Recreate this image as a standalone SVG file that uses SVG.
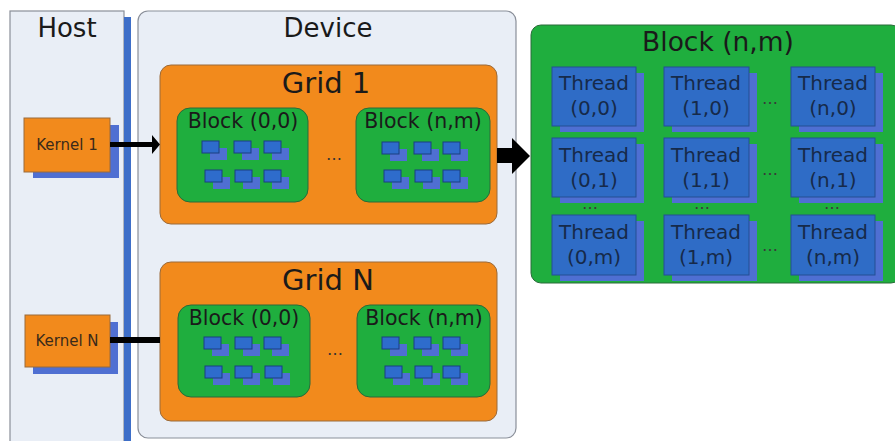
<svg xmlns="http://www.w3.org/2000/svg" width="895" height="441" viewBox="0 0 895 441">
<style>
.panel{fill:#e9eef6;stroke:#8a8f99;stroke-width:1.2}
.orange{fill:#f28a1c;stroke:#9a6a3a;stroke-width:1}
.green{fill:#1fae3e;stroke:#2a6a3a;stroke-width:1}
.shadow{fill:#4f6fd2}
.thread{fill:#2f6cc6;stroke:#244f93;stroke-width:1}
.t{font-family:"DejaVu Sans",Verdana,sans-serif;fill:#1a1a1a;text-anchor:middle}
.hd{font-size:26px}
.k{font-size:15px;fill:#3a2a1a}
.blk{font-size:20.5px}
.grid{font-size:29px}
.th{font-size:20px;fill:#162a4a}
.dots{font-size:16px;fill:#333}
.wdots{font-size:16px;fill:#3a3a3a}
</style>
<defs>
<g id="mini">
<rect x="8" y="7" width="17" height="12" class="shadow"/>
<rect x="0" y="0" width="17" height="12" fill="#2e6ccc" stroke="#1a3f80" stroke-width="1"/>
</g>
</defs>
<rect width="895" height="441" fill="#fff"/>

<g id="host">
<rect x="10" y="11" width="114" height="440" class="panel"/>
<text x="67" y="37" class="t hd">Host</text>
<rect x="124" y="17" width="7" height="430" fill="#3d6ec8"/>
</g>

<g id="device">
<rect x="138" y="11" width="378" height="427" rx="10" class="panel"/>
<text x="328" y="37" class="t hd">Device</text>
</g>

<g id="kernel1">
<rect x="33" y="125" width="86" height="53" class="shadow"/>
<rect x="24" y="118" width="86" height="54" class="orange"/>
<text x="67" y="150" class="t k">Kernel 1</text>
</g>

<g id="kernelN">
<rect x="33" y="322" width="85" height="52" class="shadow"/>
<rect x="25" y="315" width="85" height="52" class="orange"/>
<text x="67" y="346" class="t k">Kernel N</text>
</g>

<g id="grid1">
<rect x="160" y="65" width="337" height="159" rx="11" class="orange"/>
<text x="326" y="93" class="t grid">Grid 1</text>
<g id="grid1-block00">
<rect x="177" y="108" width="131" height="94" rx="13" class="green"/>
<text x="243" y="128" class="t blk">Block (0,0)</text>
<use href="#mini" x="202" y="141"/><use href="#mini" x="234" y="141"/><use href="#mini" x="264" y="141"/>
<use href="#mini" x="205" y="170"/><use href="#mini" x="235" y="170"/><use href="#mini" x="264" y="170"/>
</g>
<text x="334" y="160" class="t dots">…</text>
<g id="grid1-blocknm">
<rect x="356" y="108" width="134" height="94" rx="13" class="green"/>
<text x="423" y="128" class="t blk">Block (n,m)</text>
<use href="#mini" x="382" y="142"/><use href="#mini" x="414" y="142"/><use href="#mini" x="443" y="142"/>
<use href="#mini" x="384" y="170"/><use href="#mini" x="415" y="170"/><use href="#mini" x="443" y="170"/>
</g>
</g>

<g id="gridN">
<rect x="160" y="262" width="337" height="159" rx="11" class="orange"/>
<text x="328" y="290" class="t grid">Grid N</text>
<g id="gridN-block00">
<rect x="178" y="305" width="132" height="92" rx="13" class="green"/>
<text x="244" y="325" class="t blk">Block (0,0)</text>
<use href="#mini" x="204" y="337"/><use href="#mini" x="235" y="337"/><use href="#mini" x="264" y="337"/>
<use href="#mini" x="205" y="366"/><use href="#mini" x="235" y="366"/><use href="#mini" x="265" y="366"/>
</g>
<text x="335" y="355" class="t dots">…</text>
<g id="gridN-blocknm">
<rect x="357" y="305" width="133" height="92" rx="13" class="green"/>
<text x="424" y="325" class="t blk">Block (n,m)</text>
<use href="#mini" x="382" y="337"/><use href="#mini" x="414" y="337"/><use href="#mini" x="443" y="337"/>
<use href="#mini" x="385" y="366"/><use href="#mini" x="415" y="366"/><use href="#mini" x="443" y="366"/>
</g>
</g>

<g id="blockdetail">
<rect x="531" y="25" width="370" height="258" rx="10" class="green"/>
<text x="718" y="51" class="t" font-size="26.5">Block (n,m)</text>
<g id="threads">
<rect x="560" y="73" width="84" height="59" class="shadow"/>
<rect x="552" y="67" width="84" height="59" class="thread"/>
<text x="594" y="90" class="t th">Thread</text><text x="594" y="115" class="t th">(0,0)</text>
<rect x="672" y="73" width="85" height="59" class="shadow"/>
<rect x="664" y="67" width="85" height="59" class="thread"/>
<text x="706" y="90" class="t th">Thread</text><text x="706" y="115" class="t th">(1,0)</text>
<rect x="799" y="73" width="84" height="59" class="shadow"/>
<rect x="791" y="67" width="84" height="59" class="thread"/>
<text x="833" y="90" class="t th">Thread</text><text x="833" y="115" class="t th">(n,0)</text>

<rect x="560" y="144" width="84" height="59" class="shadow"/>
<rect x="552" y="138" width="84" height="59" class="thread"/>
<text x="594" y="162" class="t th">Thread</text><text x="594" y="187" class="t th">(0,1)</text>
<rect x="672" y="144" width="85" height="59" class="shadow"/>
<rect x="664" y="138" width="85" height="59" class="thread"/>
<text x="706" y="162" class="t th">Thread</text><text x="706" y="187" class="t th">(1,1)</text>
<rect x="799" y="144" width="84" height="59" class="shadow"/>
<rect x="791" y="138" width="84" height="59" class="thread"/>
<text x="833" y="162" class="t th">Thread</text><text x="833" y="187" class="t th">(n,1)</text>

<rect x="560" y="221" width="84" height="60" class="shadow"/>
<rect x="552" y="215" width="84" height="60" class="thread"/>
<text x="594" y="239" class="t th">Thread</text><text x="594" y="264" class="t th">(0,m)</text>
<rect x="672" y="221" width="85" height="60" class="shadow"/>
<rect x="664" y="215" width="85" height="60" class="thread"/>
<text x="706" y="239" class="t th">Thread</text><text x="706" y="264" class="t th">(1,m)</text>
<rect x="799" y="221" width="84" height="60" class="shadow"/>
<rect x="791" y="215" width="84" height="60" class="thread"/>
<text x="833" y="239" class="t th">Thread</text><text x="833" y="264" class="t th">(n,m)</text>
</g>
<text x="770" y="104" class="t wdots">…</text>
<text x="770" y="175" class="t wdots">…</text>
<text x="770" y="251" class="t wdots">…</text>
<text x="590" y="209" class="t wdots">…</text>
<text x="702" y="209" class="t wdots">…</text>
<text x="832" y="209" class="t wdots">…</text>
</g>

<g id="connectors">
<path d="M110,142 L152,142 L152,135 L160,144.5 L152,154 L152,147 L110,147 z" fill="#000"/>
<line x1="110" y1="340" x2="160" y2="340" stroke="#000" stroke-width="6"/>
<path d="M497,148 L512,148 L512,138 L530,156 L512,174 L512,163 L497,163 z" fill="#000"/>
</g>
</svg>
